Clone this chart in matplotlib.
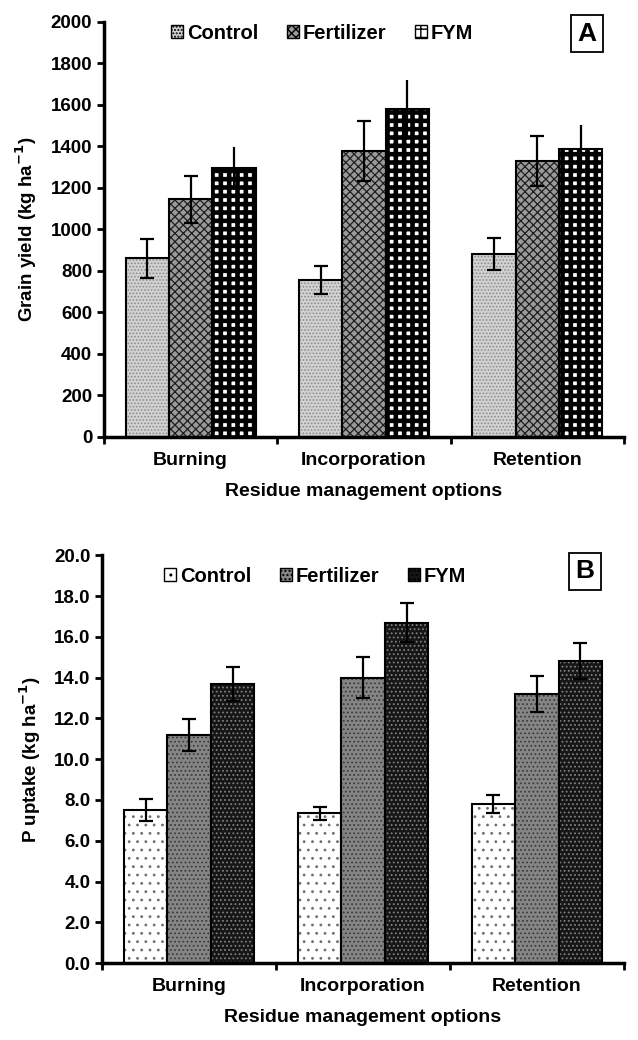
import numpy as np
import matplotlib.pyplot as plt
from matplotlib.patches import Patch

plt.rcParams['font.family'] = ['Liberation Sans', 'DejaVu Sans']
plt.rcParams['font.weight'] = 'bold'
plt.rcParams['axes.labelweight'] = 'bold'
plt.rcParams['mathtext.default'] = 'bf'

cats = ['Burning', 'Incorporation', 'Retention']
series = ['Control', 'Fertilizer', 'FYM']

# panel A: grain yield (kg/ha)
grain_control = [860, 755, 880]
grain_fert = [1145, 1378, 1330]
grain_fym = [1295, 1578, 1385]
grain_control_err = [94, 67, 78]
grain_fert_err = [114, 146, 122]
grain_fym_err = [104, 144, 120]

# panel B: P uptake (kg/ha)
p_control = [7.5, 7.35, 7.8]
p_fert = [11.2, 14.0, 13.2]
p_fym = [13.7, 16.7, 14.8]
p_control_err = [0.53, 0.32, 0.45]
p_fert_err = [0.78, 1.02, 0.87]
p_fym_err = [0.84, 0.95, 0.88]

# (face, hatch, hatch colour, hatch lw) for each series
style_a = [('#d2d2d2', '.....', '#8c8c8c', 0.8),
           ('#9a9a9a', 'xxxx', '#1e1e1e', 0.9),
           ('white', '++', 'black', 3.3)]
style_b = [('white', '..', '#6e6e6e', 0.8),
           ('#858585', '....', '#3c3c3c', 0.8),
           ('#161616', '....', '#808080', 0.8)]


def hatched_bars(ax, x, h, w, st):
    face, hatch, hcol, hlw = st
    bars = ax.bar(x, h, w, color=face, hatch=hatch, edgecolor=hcol,
                  linewidth=0, zorder=2)
    for b in bars:
        if hasattr(b, 'set_hatch_linewidth'):
            b.set_hatch_linewidth(hlw)
    ax.bar(x, h, w, fill=False, edgecolor='black', linewidth=1.5, zorder=3)


def panel(ax, vals, errs, styles, ymax, ystep, fmt, ylabel, tag, caps,
          leg_xy, tag_xy):
    x = np.arange(1, len(cats) + 1)
    w = 0.25
    for i in range(3):
        xi = x + (i - 1) * w
        hatched_bars(ax, xi, vals[i], w, styles[i])
        ax.errorbar(xi, vals[i], yerr=errs[i], fmt='none', ecolor='black',
                    elinewidth=1.6, capsize=caps[i], capthick=1.6, zorder=4)
    ax.set_xlim(0.5, 3.5)
    ax.set_ylim(0, ymax)
    ticks = np.arange(0, ymax + ystep / 2, ystep)
    ax.set_yticks(ticks)
    ax.set_yticklabels([fmt.format(v) for v in ticks])
    ax.set_xticks([0.5, 1.5, 2.5, 3.5])
    ax.set_xticklabels([])
    ax.set_xticks(x, minor=True)
    ax.set_xticklabels(cats, minor=True, fontsize=14)
    ax.tick_params(axis='x', which='minor', length=0, pad=11)
    ax.tick_params(axis='both', which='major', direction='out', length=5,
                   width=2, labelsize=13.5)
    for s in ['top', 'right']:
        ax.spines[s].set_visible(False)
    for s in ['left', 'bottom']:
        ax.spines[s].set_linewidth(2.5)
    ax.set_ylabel(ylabel, fontsize=13.5, labelpad=8)
    ax.set_xlabel('Residue management options', fontsize=14, labelpad=10)
    handles = [Patch(facecolor=st[0], hatch=st[1], edgecolor='black', linewidth=1)
               for st in styles]
    ax.legend(handles, series, loc='center', bbox_to_anchor=leg_xy,
              ncol=3, frameon=False, fontsize=14.5, handlelength=0.6,
              handleheight=0.6, handletextpad=0.2, columnspacing=1.4,
              borderaxespad=0, borderpad=0)
    ax.text(tag_xy[0], tag_xy[1], tag, transform=ax.transAxes, fontsize=19,
            ha='center', va='center',
            bbox=dict(boxstyle='square,pad=0.25', facecolor='white',
                      edgecolor='black', linewidth=1.3))


fig = plt.figure(figsize=(6.38, 10.4), dpi=100)
ax1 = fig.add_axes([0.163, 0.580, 0.815, 0.399])
ax2 = fig.add_axes([0.160, 0.074, 0.818, 0.392])

panel(ax1, [grain_control, grain_fert, grain_fym],
      [grain_control_err, grain_fert_err, grain_fym_err],
      style_a, 2000, 200, '{:.0f}', r'Grain yield (kg ha$^{-1}$)', 'A', [5, 5, 0],
      (0.42, 0.973), (0.929, 0.971))
panel(ax2, [p_control, p_fert, p_fym],
      [p_control_err, p_fert_err, p_fym_err],
      style_b, 20, 2, '{:.1f}', r'P uptake (kg ha$^{-1}$)', 'B', [5, 5, 5],
      (0.408, 0.949), (0.925, 0.961))

fig.savefig('out.png', dpi=100)
